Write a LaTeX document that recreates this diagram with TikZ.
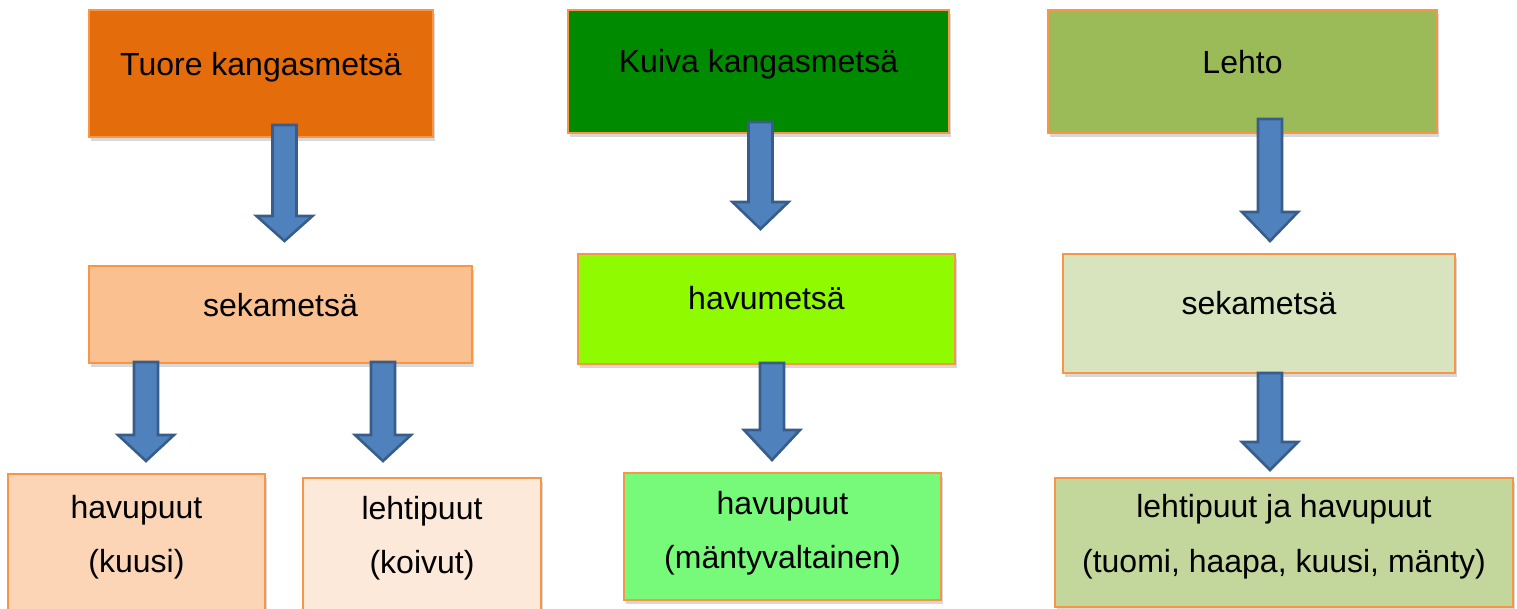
\documentclass[tikz,border=0pt]{standalone}
\usepackage{fontspec}
\setmainfont{Liberation Sans}
\usetikzlibrary{shadows}
\definecolor{bord}{HTML}{F79646}
\definecolor{cTuore}{HTML}{E46C0A}
\definecolor{cKuiva}{HTML}{008A00}
\definecolor{cLehto}{HTML}{9BBB59}
\definecolor{cSekaL}{HTML}{FAC090}
\definecolor{cHavum}{HTML}{8FFA00}
\definecolor{cSekaR}{HTML}{D7E4BD}
\definecolor{cKuusi}{HTML}{FBD5B5}
\definecolor{cKoivu}{HTML}{FDE9D9}
\definecolor{cManty}{HTML}{77FA7A}
\definecolor{cLehtiHavu}{HTML}{C3D69B}
\definecolor{arrFill}{HTML}{4F81BD}
\definecolor{arrDraw}{HTML}{385D8A}
\tikzset{
  boxstyle/.style={draw=bord, line width=1.6pt, drop shadow={shadow xshift=2pt, shadow yshift=-4pt, opacity=0.3, fill=gray}},
  txt/.style={anchor=base, inner sep=0pt, font=\fontsize{32}{38}\selectfont, text=black},
  blockarrow/.style={fill=arrFill, draw=arrDraw, line width=2.6pt, line join=miter}
}
\newcommand\barrow[4]{%
  \draw[blockarrow] ({#1-12},{#2}) -- ({#1+12},{#2}) -- ({#1+12},{#3}) -- ({#1+28},{#3}) -- ({#1},{#4}) -- ({#1-28},{#3}) -- ({#1-12},{#3}) -- cycle;}
\begin{document}
\begin{tikzpicture}[x=1pt, y=-1pt]
\useasboundingbox (0,0) rectangle (1517,609);
\clip (0,0) rectangle (1517,609);
\fill[white] (0,0) rectangle (1517,609);
% top row
\path[boxstyle, fill=cTuore] (89,10) rectangle (433,137);
\node[txt] (t1) at (261,76) {Tuore kangasmetsä};
\path[boxstyle, fill=cKuiva] (568,10) rectangle (949,133);
\node[txt] (t2) at (758.5,73) {Kuiva kangasmetsä};
\path[boxstyle, fill=cLehto] (1048,10) rectangle (1437,133);
\node[txt] (t3) at (1242.5,74) {Lehto};
% middle row
\path[boxstyle, fill=cSekaL] (89,266) rectangle (472,363);
\node[txt] (m1) at (280.5,317) {sekametsä};
\path[boxstyle, fill=cHavum] (578,254) rectangle (955,364);
\node[txt] (m2) at (766.5,310) {havumetsä};
\path[boxstyle, fill=cSekaR] (1063,254) rectangle (1455,373);
\node[txt] (m3) at (1259,315) {sekametsä};
% bottom row
\path[boxstyle, fill=cKuusi] (8,474) rectangle (265,620);
\node[txt] (b1a) at (136.5,518) {havupuut};
\node[txt] (b1b) at (136.5,572) {(kuusi)};
\path[boxstyle, fill=cKoivu] (303,478) rectangle (541,620);
\node[txt] (b2a) at (422,519) {lehtipuut};
\node[txt] (b2b) at (422,573) {(koivut)};
\path[boxstyle, fill=cManty] (624,473) rectangle (941,600);
\node[txt] (b3a) at (782.5,514) {havupuut};
\node[txt] (b3b) at (782.5,568) {(mäntyvaltainen)};
\path[boxstyle, fill=cLehtiHavu] (1055,478) rectangle (1513,607);
\node[txt] (b4a) at (1284,517) {lehtipuut ja havupuut};
\node[txt] (b4b) at (1284,572) {(tuomi, haapa, kuusi, mänty)};
% arrows
\barrow{284.5}{125}{216}{241}
\barrow{760.5}{122}{202}{229}
\barrow{1270}{119}{212}{241}
\barrow{146}{362}{435}{461}
\barrow{383}{362}{435}{461}
\barrow{772}{363}{430}{460}
\barrow{1270}{373}{442}{470}
\end{tikzpicture}
\end{document}
